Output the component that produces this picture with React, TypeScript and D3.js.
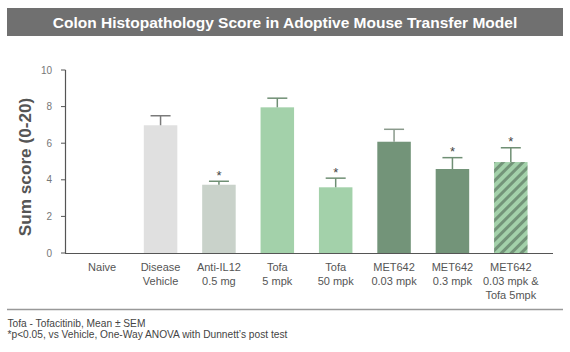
import React from "react";
import * as d3 from "d3";

const categories = ["Naive", "Disease Vehicle", "Anti-IL12 0.5 mg", "Tofa 5 mpk", "Tofa 50 mpk", "MET642 0.03 mpk", "MET642 0.3 mpk", "MET642 0.03 mpk & Tofa 5mpk"];
const labelLines = [["Naive"], ["Disease", "Vehicle"], ["Anti-IL12", "0.5 mg"], ["Tofa", "5 mpk"], ["Tofa", "50 mpk"], ["MET642", "0.03 mpk"], ["MET642", "0.3 mpk"], ["MET642", "0.03 mpk &", "Tofa 5mpk"]];
const means = [0, 6.98, 3.73, 7.96, 3.59, 6.08, 4.59, 4.97];
const sems = [0, 0.52, 0.19, 0.5, 0.5, 0.68, 0.62, 0.78];
const significant = [false, false, true, false, true, false, true, true];
const barColors = ["none", "#e0e0e0", "#c9d2ca", "#a3d1aa", "#a3d1aa", "#739479", "#739479", "url(#hatch)"];
const errColors = ["none", "#7a7a7a", "#6f8f74", "#6f8f74", "#6f8f74", "#8a9a8c", "#6f8f74", "#6f8f74"];
const yTicks = [0, 2, 4, 6, 8, 10];

const font = "Arial, 'Liberation Sans', sans-serif";

export default function App() {
  const width = 570;
  const height = 352;
  const y = d3.scaleLinear().domain([0, 10]).range([253, 70]);
  const x = d3.scaleBand<string>().domain(categories).range([65, 548]).paddingInner(0.426).paddingOuter(0.35);
  const bw = x.bandwidth();

  return (
    <svg width={width} height={height} style={{ position: "absolute", left: 0, top: 0, fontFamily: font }}>
      <defs>
        <pattern id="hatch" patternUnits="userSpaceOnUse" width="7" height="7" patternTransform="rotate(45)">
          <rect width="7" height="7" fill="#a3d1aa" />
          <rect width="3" height="7" fill="#739479" />
        </pattern>
      </defs>
      <rect x={0} y={0} width={width} height={height} fill="#fff" />
      {/* title */}
      <rect x={7} y={8} width={556} height={28} fill="#707070" />
      <text x={285} y={27.5} textAnchor="middle" fill="#fff" fontSize={15.5} fontWeight="bold">
        Colon Histopathology Score in Adoptive Mouse Transfer Model
      </text>

      {/* y axis */}
      <line x1={65.5} x2={65.5} y1={y(10)} y2={y(0)} stroke="#555" strokeWidth={1.2} />
      {yTicks.map(t => (
        <g key={t}>
          <line x1={61} x2={65.5} y1={y(t)} y2={y(t)} stroke="#555" strokeWidth={1} />
          <text x={52} y={y(t) + 3.5} textAnchor="end" fontSize={10} fill="#777">{t}</text>
        </g>
      ))}
      <text transform={`translate(31,167) rotate(-90)`} textAnchor="middle" fontSize={17.2} fontWeight="bold" fill="#555">
        Sum score (0-20)
      </text>

      {/* bars */}
      {categories.map((c, i) => {
        if (means[i] <= 0) return null;
        const x0 = x(c)!;
        const cx = x0 + bw / 2;
        const top = y(means[i]);
        const cap = y(means[i] + sems[i]);
        return (
          <g key={c}>
            <rect x={x0} y={top} width={bw} height={y(0) - top} fill={barColors[i]} />
            <line x1={cx} x2={cx} y1={top} y2={cap} stroke={errColors[i]} strokeWidth={1.5} />
            <line x1={cx - 10} x2={cx + 10} y1={cap} y2={cap} stroke={errColors[i]} strokeWidth={1.5} />
            {significant[i] && (
              <text x={cx} y={cap - 1.6} textAnchor="middle" fontSize={13} fill="#444">*</text>
            )}
          </g>
        );
      })}
      <line x1={65} x2={553} y1={y(0) + 0.5} y2={y(0) + 0.5} stroke="#555" strokeWidth={1.2} />

      {/* x labels */}
      {categories.map((c, i) => (
        <text key={c} x={x(c)! + bw / 2} textAnchor="middle" fontSize={11} fill="#555">
          {labelLines[i].map((l, j) => (
            <tspan key={j} x={x(c)! + bw / 2} y={271 + j * 14.2}>{l}</tspan>
          ))}
        </text>
      ))}

      {/* footer */}
      <line x1={7} x2={563} y1={309.5} y2={309.5} stroke="#999" strokeWidth={1.5} />
      <text x={7.5} y={326.5} fontSize={10.2} fill="#444">Tofa - Tofacitinib, Mean ± SEM</text>
      <text x={7.5} y={337.5} fontSize={10.2} fill="#444">*p&lt;0.05, vs Vehicle, One-Way ANOVA with Dunnett’s post test</text>
    </svg>
  );
}
